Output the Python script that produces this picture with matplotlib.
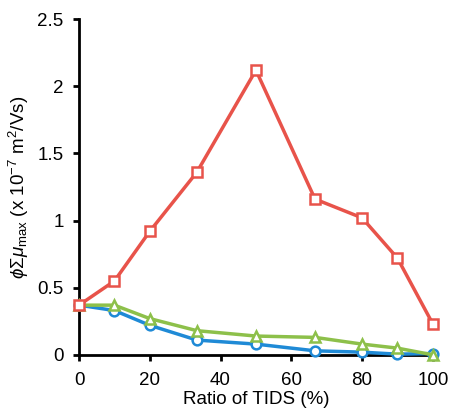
import matplotlib
matplotlib.use("Agg")
import matplotlib.pyplot as plt

plt.rcParams['font.family'] = ['Liberation Sans', 'DejaVu Sans']
plt.rcParams['mathtext.fontset'] = 'custom'
plt.rcParams['mathtext.rm'] = 'Liberation Sans'
plt.rcParams['mathtext.it'] = 'Liberation Sans:italic'

ratio = [0, 10, 20, 33.3, 50, 66.7, 80, 90, 100]
red = [0.37, 0.55, 0.92, 1.36, 2.12, 1.16, 1.02, 0.72, 0.23]
green = [0.37, 0.37, 0.27, 0.18, 0.14, 0.13, 0.08, 0.05, 0.0]
blue = [0.37, 0.33, 0.22, 0.11, 0.08, 0.03, 0.02, 0.005, 0.01]
xticks = [0, 20, 40, 60, 80, 100]
yticks = [0, 0.5, 1, 1.5, 2, 2.5]
ytick_labels = ['0', '0.5', '1', '1.5', '2', '2.5']

fig = plt.figure(figsize=(4.49, 4.16), dpi=100)
ax = fig.add_axes([0.176, 0.147, 0.788, 0.807])

ax.plot(ratio, blue, color='#1f8ad6', lw=2.5, marker='o', ms=7,
        mfc='white', mec='#1f8ad6', mew=1.8, clip_on=False, zorder=3)
ax.plot(ratio, green, color='#8dc04a', lw=2.5, marker='^', ms=7.5,
        mfc='white', mec='#8dc04a', mew=1.8, clip_on=False, zorder=4)
ax.plot(ratio, red, color='#e8534a', lw=2.5, marker='s', ms=7,
        mfc='white', mec='#e8534a', mew=1.8, clip_on=False, zorder=5)

ax.set_xlim(0, 100)
ax.set_ylim(0, 2.5)
ax.set_xticks(xticks)
ax.set_yticks(yticks)
ax.set_yticklabels(ytick_labels)
for s in ['top', 'right']:
    ax.spines[s].set_visible(False)
for s in ['left', 'bottom']:
    ax.spines[s].set_linewidth(2)
ax.tick_params(direction='out', length=4.5, width=2, labelsize=13.5)
ax.tick_params(axis='x', pad=7.5)
ax.tick_params(axis='y', pad=6.5)
ax.set_xlabel('Ratio of TIDS (%)', fontsize=13.5, labelpad=2)
ax.set_ylabel(r'$\phi\Sigma\mu_{\mathrm{max}}$ (x 10$^{-7}$ m$^2$/Vs)', fontsize=13.5, labelpad=5)

fig.savefig('out.png', dpi=100)
